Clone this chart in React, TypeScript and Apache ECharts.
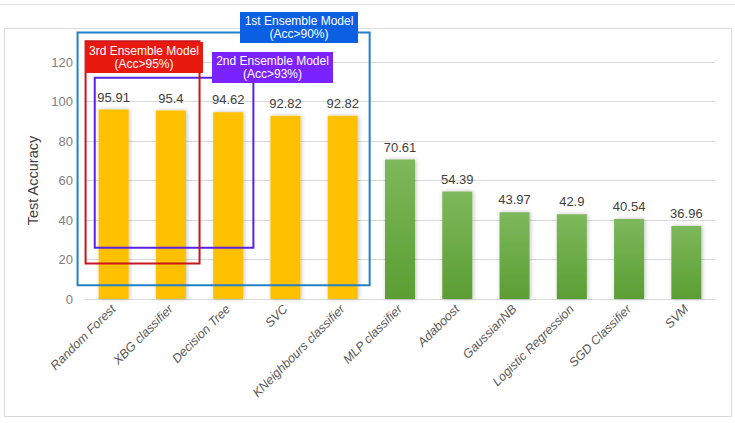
import React, { useEffect, useRef } from "react";
import * as echarts from "echarts";

const categories = [
  "Random Forest",
  "XBG classifier",
  "Decision Tree",
  "SVC",
  "KNeighbours classifier",
  "MLP classifier",
  "Adaboost",
  "GaussianNB",
  "Logistic Regression",
  "SGD Classifier",
  "SVM",
];
const accuracy = [95.91, 95.4, 94.62, 92.82, 92.82, 70.61, 54.39, 43.97, 42.9, 40.54, 36.96];
const ensembleGroup = [true, true, true, true, true, false, false, false, false, false, false];
const yTicks = [0, 20, 40, 60, 80, 100, 120];

const ensembleTitles = ["1st Ensemble Model", "2nd Ensemble Model", "3rd Ensemble Model"];
const ensembleSubs = ["(Acc>90%)", "(Acc>93%)", "(Acc>95%)"];
const ensembleFrom = [0, 0, 0];
const ensembleTo = [4, 2, 1];
const ensembleTop = [135, 112, 130.5];
const ensembleBottom = [7, 26, 18];

export default function App() {
  const ref = useRef<HTMLDivElement>(null);
  useEffect(() => {
    document.body.style.margin = "0";
    const chart = echarts.init(ref.current!, null, { renderer: "svg" });
    const font = "'Liberation Sans', Arial, sans-serif";
    const green = new echarts.graphic.LinearGradient(0, 0, 0, 1, [
      { offset: 0, color: "#7DB85C" },
      { offset: 1, color: "#5B9E33" },
    ]);
    chart.setOption({
      animation: false,
      grid: { left: 85, right: 20, top: 62, bottom: 124, containLabel: false },
      xAxis: {
        type: "category",
        data: categories,
        axisLine: { lineStyle: { color: "#d9d9d9", width: 1 } },
        axisTick: { show: false },
        axisLabel: {
          rotate: 45,
          interval: 0,
          fontStyle: "italic",
          fontSize: 12.5,
          fontFamily: font,
          color: "#595959",
          margin: 8,
        },
      },
      yAxis: {
        type: "value",
        min: yTicks[0],
        max: yTicks[yTicks.length - 1],
        interval: 20,
        name: "Test Accuracy",
        nameLocation: "middle",
        nameGap: 43,
        nameTextStyle: { fontSize: 14.5, color: "#404040", fontFamily: font },
        axisLine: { show: false },
        axisTick: { show: false },
        axisLabel: { fontSize: 13, color: "#7f7f7f", fontFamily: font, margin: 12 },
        splitLine: { lineStyle: { color: "#d9d9d9", width: 1 } },
      },
      series: [
        {
          type: "bar",
          barWidth: 30,
          data: accuracy.map((v, i) => ({
            value: v,
            itemStyle: {
              color: ensembleGroup[i] ? "#FFC000" : green,
              shadowBlur: 4,
              shadowColor: "rgba(0,0,0,0.25)",
              shadowOffsetX: 1,
              shadowOffsetY: 0,
            },
          })),
          label: {
            show: true,
            position: "top",
            distance: 6,
            fontSize: 13,
            color: "#404040",
            fontFamily: font,
          },
        },
      ],
    });

    const p0 = chart.convertToPixel({ seriesIndex: 0 }, [0, 0]) as number[];
    const p1 = chart.convertToPixel({ seriesIndex: 0 }, [1, 0]) as number[];
    const band = p1[0] - p0[0];
    const leftFrac = [-0.63, -0.33, -0.49];
    const rightFrac = [0.47, 0.44, 0.5];
    const boxColors = ["#2280C8", "#5B22E6", "#C8161E"];
    const labelColors = ["#0B5FE3", "#7A22FF", "#E8190F"];
    const labelRects = [
      [240, 12, 118, 31],
      [212, 52, 121, 31],
      [85, 42, 118, 31],
    ];
    const graphics: any[] = [
      { type: "line", shape: { x1: 0, y1: 4.5, x2: 735, y2: 4.5 }, style: { stroke: "#e3e3e3", lineWidth: 1 }, z: 0 },
      { type: "rect", shape: { x: 4.5, y: 28.5, width: 727, height: 388 }, style: { fill: "none", stroke: "#d9d9d9", lineWidth: 1 }, z: 0 },
    ];
    const order = [0, 1, 2];
    order.forEach((k) => {
      const a = chart.convertToPixel({ seriesIndex: 0 }, [ensembleFrom[k], ensembleTop[k]]) as number[];
      const b = chart.convertToPixel({ seriesIndex: 0 }, [ensembleTo[k], ensembleBottom[k]]) as number[];
      const x1 = a[0] + leftFrac[k] * band;
      const x2 = b[0] + rightFrac[k] * band;
      graphics.push({
        type: "rect",
        shape: { x: x1, y: a[1], width: x2 - x1, height: b[1] - a[1] },
        style: { fill: "none", stroke: boxColors[k], lineWidth: 2 },
        z: 100,
      });
    });
    order.forEach((k) => {
      const r = labelRects[k];
      graphics.push({
        type: "rect",
        shape: { x: r[0], y: r[1], width: r[2], height: r[3] },
        style: { fill: labelColors[k] },
        z: 110,
      });
      graphics.push({
        type: "text",
        x: r[0] + r[2] / 2,
        y: r[1] + r[3] / 2,
        style: {
          text: ensembleTitles[k] + "\n" + ensembleSubs[k],
          fill: "#ffffff",
          fontSize: 12,
          fontFamily: font,
          lineHeight: 13.5,
          align: "center",
          verticalAlign: "middle",
        },
        z: 111,
      });
    });
    chart.setOption({ graphic: graphics });
    return () => chart.dispose();
  }, []);
  return <div ref={ref} style={{ width: 735, height: 423 }} />;
}
